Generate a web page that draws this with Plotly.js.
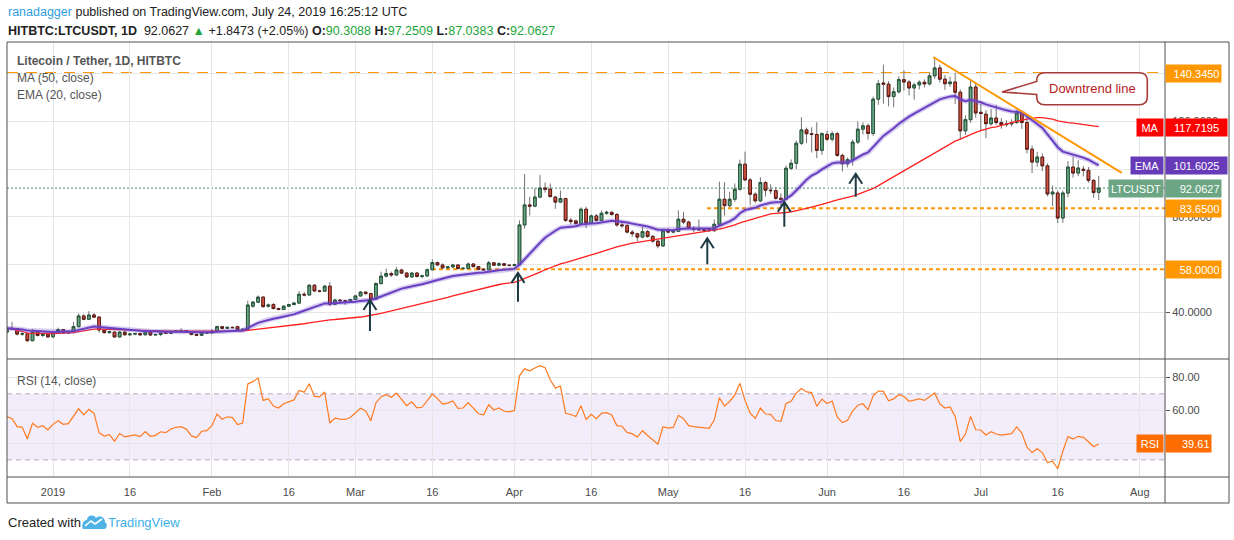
<!DOCTYPE html>
<html>
<head>
<meta charset="utf-8">
<script src="https://cdn.plot.ly/plotly-3.0.1.min.js"></script>
<style>
  html, body { margin: 0; padding: 0; background: #fff; }
  #chart { width: 1234px; height: 540px; }
</style>
</head>
<body>
<div id="chart"></div>
<script>
// LTC/USDT daily, HitBTC, 23 Dec 2018 - 24 Jul 2019

const open = [
  31.6, 33.2, 33.0, 30.8, 30.9, 28.0, 31.6, 30.2, 30.9,
  29.6, 31.4, 32.7, 31.3, 31.8, 33.9, 38.4, 37.0, 38.8, 37.9, 32.5, 31.4, 31.6, 29.6, 31.6, 30.5,
  30.8, 31.0, 30.5, 31.6, 30.4, 30.6, 31.3, 31.1, 31.8, 32.1, 32.2, 31.8, 30.6, 30.3, 31.2,
  31.3, 32.0, 33.9, 33.2, 33.6, 33.9, 32.6, 32.8, 42.5, 44.2, 46.3, 42.5, 43.2, 41.5, 41.1, 42.5,
  43.2, 43.8, 47.5, 47.2, 51.3, 48.9, 48.8, 50.9, 43.3, 45.1, 44.8, 44.7,
  45.3, 46.8, 48.4, 47.8, 45.5, 52.0, 55.1, 56.2, 55.6, 57.7, 56.4, 54.8, 56.4, 55.0, 55.2, 57.8,
  60.8, 59.8, 58.6, 59.0, 59.8, 58.3, 58.4, 60.2, 59.1, 58.0, 57.8, 60.7, 59.7, 60.3, 59.7,
  59.6, 59.9, 76.6, 85.0, 84.5, 88.3, 92.1, 91.6, 88.3, 86.2, 87.7, 78.6, 78.3, 77.3, 83.2,
  77.5, 80.4, 78.5, 81.5, 81.9, 81.0, 76.6, 76.3, 73.6, 72.9, 71.5, 73.8, 71.8, 69.8, 67.8,
  74.2, 73.6, 73.9, 79.0, 77.8, 75.2, 74.8, 74.6, 74.8, 74.2, 76.9, 87.4, 84.7, 87.4, 91.6, 102.1,
  95.5, 89.5, 86.7, 94.4, 91.2, 91.0, 87.8, 87.4, 100.4, 102.5, 110.9, 116.5, 114.9, 114.6, 107.9,
  114.6, 112.6, 114.9, 105.8, 102.3, 104.0, 111.4, 116.8, 118.2, 115.0, 129.4, 136.2, 135.7, 130.5, 132.5,
  137.6, 136.6, 134.1, 135.4, 136.5, 135.8, 139.2, 142.5, 137.8, 135.9, 136.6, 132.3, 116.1, 120.8, 134.5,
  123.9, 123.1, 119.1, 121.5, 119.6, 118.7, 119.0, 119.6, 123.6, 119.6, 108.4, 103.0, 105.1, 101.4, 89.6,
  90.0, 79.5, 90.0, 100.9, 98.4, 100.0, 99.5, 95.3, 90.3088
];
const high = [
  33.6, 35.9, 33.4, 31.6, 31.2, 32.9, 32.4, 31.1, 31.3,
  31.8, 33.5, 32.9, 32.2, 35.9, 39.5, 39.3, 40.4, 39.6, 38.3, 32.9, 32.2, 32.0, 32.1, 32.0, 31.2,
  31.3, 31.3, 32.0, 32.4, 30.9, 31.6, 31.5, 32.0, 32.4, 33.3, 32.4, 31.9, 30.9, 31.5, 31.6,
  32.9, 34.3, 34.1, 33.9, 33.9, 34.3, 33.1, 44.8, 44.6, 47.0, 46.6, 43.6, 43.8, 41.9, 42.8, 43.5,
  44.3, 48.9, 48.5, 51.6, 51.8, 49.4, 51.4, 52.7, 45.6, 45.4, 45.2, 45.7,
  47.3, 48.9, 48.7, 48.1, 52.5, 57.0, 58.3, 57.0, 59.0, 58.2, 56.8, 56.9, 56.8, 55.7, 58.3, 62.2,
  61.2, 60.5, 59.4, 60.3, 60.2, 58.9, 60.8, 60.6, 59.4, 58.4, 61.5, 61.0, 61.0, 60.7, 60.1,
  60.3, 78.5, 98.0, 88.5, 92.0, 97.6, 94.4, 94.0, 88.8, 91.0, 88.0, 79.6, 78.8, 84.0, 84.3,
  81.0, 81.2, 82.6, 82.5, 82.3, 81.6, 78.5, 76.9, 74.5, 73.3, 76.0, 74.5, 72.4, 70.4, 74.6,
  75.3, 74.6, 82.7, 82.1, 78.4, 76.0, 78.9, 75.3, 75.2, 78.9, 94.8, 94.5, 90.5, 94.0, 104.0, 107.4,
  96.3, 90.3, 96.6, 95.0, 93.7, 92.6, 89.9, 101.6, 104.1, 112.0, 121.8, 117.5, 117.6, 119.7, 115.5,
  116.2, 116.0, 115.6, 106.5, 104.9, 112.5, 120.0, 119.7, 119.2, 130.5, 137.5, 143.9, 137.0, 134.3, 139.0,
  141.6, 137.4, 136.4, 137.3, 137.7, 140.6, 146.7, 143.9, 139.5, 138.9, 140.5, 133.5, 122.6, 137.6, 136.3,
  127.4, 124.8, 125.3, 127.0, 121.4, 120.6, 121.0, 125.0, 124.5, 122.8, 110.0, 107.3, 106.6, 102.4, 93.2,
  91.1, 91.0, 103.4, 105.3, 103.8, 101.3, 100.9, 95.9, 97.2509
];
const low = [
  31.2, 32.6, 30.2, 30.1, 27.6, 27.8, 29.8, 29.6, 29.3,
  29.4, 31.1, 31.0, 30.9, 31.6, 33.6, 36.6, 36.7, 37.5, 31.4, 31.0, 31.0, 29.2, 29.4, 30.2, 30.1,
  30.3, 30.1, 30.3, 30.0, 30.1, 29.9, 30.8, 30.9, 31.5, 31.9, 31.5, 30.3, 29.9, 30.1, 30.9,
  31.1, 31.8, 32.9, 33.0, 33.2, 32.3, 32.3, 32.6, 41.8, 43.8, 42.0, 41.9, 41.2, 40.8, 40.9, 42.2,
  42.9, 43.5, 46.6, 46.9, 48.4, 48.3, 48.5, 42.5, 43.0, 44.2, 43.0, 44.3,
  45.0, 46.5, 47.3, 45.0, 45.2, 51.6, 54.6, 54.8, 55.2, 56.0, 54.3, 54.4, 54.6, 54.2, 54.9, 57.5,
  59.4, 58.2, 58.2, 58.6, 57.9, 57.9, 58.1, 58.8, 57.6, 57.4, 57.6, 59.4, 59.4, 59.3, 59.3,
  59.2, 59.7, 75.0, 80.6, 84.0, 87.8, 90.2, 88.2, 83.4, 85.8, 77.8, 76.9, 76.6, 76.9, 75.2,
  77.0, 78.0, 78.2, 80.8, 80.5, 75.8, 75.4, 73.0, 71.6, 69.8, 71.0, 71.2, 69.2, 66.8, 67.4,
  73.2, 73.0, 73.6, 76.9, 74.8, 73.6, 74.2, 73.5, 73.7, 73.6, 76.5, 80.5, 84.0, 86.3, 91.0, 95.0,
  84.9, 86.0, 86.2, 88.5, 89.6, 87.2, 84.4, 86.9, 99.6, 100.0, 110.2, 111.0, 107.0, 104.6, 106.0,
  111.8, 111.6, 105.2, 99.0, 100.8, 101.5, 110.5, 114.6, 112.4, 114.0, 127.0, 127.5, 126.4, 126.0, 131.8,
  133.0, 131.0, 129.2, 133.5, 134.3, 135.2, 137.9, 136.4, 133.3, 134.6, 127.4, 112.3, 114.4, 119.5, 121.6,
  116.4, 113.1, 118.2, 118.6, 117.0, 117.8, 117.9, 119.0, 116.9, 106.6, 98.4, 101.0, 99.2, 88.6, 84.5,
  77.4, 77.5, 88.2, 96.5, 97.1, 97.0, 94.3, 88.0, 87.0383
];
const close = [
  33.2, 33.0, 30.8, 30.9, 28.0, 31.6, 30.2, 30.8, 29.6,
  31.4, 32.7, 31.3, 31.8, 33.9, 38.4, 37.0, 38.8, 37.9, 32.5, 31.4, 31.8, 29.6, 31.6, 30.5, 30.8,
  31.0, 30.5, 31.6, 30.4, 30.6, 31.3, 31.1, 31.8, 32.1, 32.2, 31.8, 30.6, 30.3, 31.2, 31.3,
  32.0, 33.9, 33.2, 33.6, 33.5, 32.6, 32.8, 43.0, 44.2, 46.3, 42.3, 43.0, 41.5, 41.1, 42.5, 43.2,
  43.8, 47.5, 47.2, 51.3, 48.9, 48.8, 50.9, 43.3, 45.1, 44.8, 44.7, 45.3,
  46.8, 48.4, 47.8, 45.5, 52.0, 55.1, 56.2, 55.6, 57.7, 56.4, 54.8, 56.4, 55.0, 55.2, 57.8, 60.8,
  59.8, 58.6, 59.0, 59.8, 58.3, 58.4, 60.2, 59.1, 58.0, 57.8, 60.7, 59.7, 60.3, 59.7, 59.6,
  59.9, 76.6, 85.0, 84.5, 88.3, 92.1, 91.6, 88.5, 86.2, 87.7, 78.5, 78.0, 77.2, 83.2, 77.5,
  80.4, 78.5, 81.5, 81.9, 81.0, 76.6, 76.3, 73.6, 72.9, 71.5, 73.8, 71.8, 69.8, 67.8, 74.2,
  73.6, 73.9, 79.0, 77.8, 75.2, 74.8, 74.6, 74.4, 74.2, 76.9, 87.4, 84.7, 87.4, 91.6, 102.1, 95.5,
  89.5, 86.7, 94.4, 91.2, 91.0, 87.8, 87.4, 100.4, 102.5, 110.9, 116.5, 114.9, 114.6, 107.9, 114.9,
  112.6, 114.9, 105.8, 102.3, 104.0, 111.4, 116.8, 118.2, 115.0, 129.4, 135.9, 135.7, 130.5, 132.5, 137.6,
  136.6, 134.1, 135.4, 136.5, 135.8, 139.2, 142.5, 137.8, 135.9, 136.6, 132.3, 116.1, 120.8, 134.5, 123.6,
  123.4, 119.1, 121.5, 119.6, 118.7, 119.0, 119.6, 123.6, 119.6, 108.4, 103.0, 105.1, 101.4, 89.6, 90.4,
  79.5, 90.0, 100.9, 98.4, 100.5, 99.5, 95.3, 90.2, 92.0627
];

// RSI values for the first 14 sessions (before a full 14-day window exists)
const rsiWarmup = [56.1, 55.1, 50.1, 49.7, 42.6, 52.1, 49.7, 50.7, 48.1, 51.5, 53.7, 51.5, 51.9, 56.5];

const resistance = 140.345;
const support1 = 83.65;
const support2 = 58.0;
const maLast = 117.7195;
const emaLast = 101.6025;
const rsiLast = 39.61;

const timeTicks = ["2019-01-01", "2019-01-16", "2019-02-01", "2019-02-16", "2019-03-01", "2019-03-16",
  "2019-04-01", "2019-04-16", "2019-05-01", "2019-05-16", "2019-06-01", "2019-06-16",
  "2019-07-01", "2019-07-16", "2019-08-01"];
const timeLabels = ["2019", "16", "Feb", "16", "Mar", "16", "Apr", "16", "May", "16", "Jun", "16", "Jul", "16", "Aug"];
const priceTicks = [40, 60, 80, 100, 120, 140];
// labels the price tags leave visible
const priceTickLabels = ["40.0000", "", "80.0000", "", "120.0000", ""];
const rsiTicks = [40, 60, 80];
const rsiTickLabels = ["", "60.00", "80.00"];

// "higher low" arrows: tip (date, price) and length in px
const arrowDates = ["2019-03-03 20:00", "2019-04-01 17:00", "2019-05-08 15:20", "2019-05-23 16:00", "2019-06-06 14:20"];
const arrowPrices = [45.1, 56.5, 71.0, 86.3, 98.1];
const arrowLengths = [31, 29, 26, 25, 23];

// ---------------------------------------------------------------

const dates = close.map((_, i) => new Date(Date.UTC(2018, 11, 23 + i)).toISOString().slice(0, 10));

function sma(v, n) {
  const out = [];
  let sum = 0;
  for (let i = 0; i < v.length; i++) {
    sum += v[i];
    if (i >= n) sum -= v[i - n];
    out.push(sum / Math.min(i + 1, n));
  }
  return out;
}

function ema(v, n) {
  const k = 2 / (n + 1);
  const out = [v[0]];
  for (let i = 1; i < v.length; i++) out.push(v[i] * k + out[i - 1] * (1 - k));
  return out;
}

function rsi(v, n, warm) {
  const out = warm.slice(0, n);
  let g = 0, l = 0;
  for (let i = 1; i <= n; i++) {
    const ch = v[i] - v[i - 1];
    if (ch > 0) g += ch; else l -= ch;
  }
  g /= n; l /= n;
  out.push(100 - 100 / (1 + g / l));
  for (let i = n + 1; i < v.length; i++) {
    const ch = v[i] - v[i - 1];
    g = (g * (n - 1) + Math.max(ch, 0)) / n;
    l = (l * (n - 1) + Math.max(-ch, 0)) / n;
    out.push(l === 0 ? 100 : 100 - 100 / (1 + g / l));
  }
  return out;
}

const ma50 = sma(close, 50);
const ema20 = ema(close, 20);
const rsi14 = rsi(close, 14, rsiWarmup);
const bodyTop = open.map((o, i) => Math.max(o, close[i]));
const bodyBot = open.map((o, i) => Math.min(o, close[i]));

const F = '"Liberation Sans", Arial, sans-serif';
const C = {
  up: "#6ba583", upLine: "#225437",
  down: "#d75442", downLine: "#5b1a13",
  wick: "#737375",
  ma: "#ff1f1f", ema: "#6a3fc2",
  orange: "#ff9800", rsi: "#ff7a1f",
  grid: "#e6e6e6", frame: "#4f4f4f", text: "#4a4a4a"
};

// pixel -> paper helpers (plot area is x 7..1165, y 42..477)
const L = 7, R = 1165, T = 42, B = 477;
const px = x => (x - L) / (R - L);
const py = y => (B - y) / (B - T);
const xRange = ["2018-12-23 00:37", "2019-08-05 22:20"];

const traces = [
  {
    type: "candlestick", x: dates, open: open, high: high, low: low, close: close,
    xaxis: "x", yaxis: "y", whiskerwidth: 0, hoverinfo: "skip", showlegend: false,
    increasing: { line: { color: C.wick, width: 1 }, fillcolor: C.wick },
    decreasing: { line: { color: C.wick, width: 1 }, fillcolor: C.wick }
  },
  {
    type: "candlestick", x: dates, open: open, high: bodyTop, low: bodyBot, close: close,
    xaxis: "x", yaxis: "y", whiskerwidth: 0, hoverinfo: "skip", showlegend: false,
    increasing: { line: { color: C.upLine, width: 1 }, fillcolor: C.up },
    decreasing: { line: { color: C.downLine, width: 1 }, fillcolor: C.down }
  },
  {
    type: "scatter", mode: "lines", x: dates, y: ma50, xaxis: "x", yaxis: "y",
    line: { color: C.ma, width: 1.3 }, hoverinfo: "skip", showlegend: false
  },
  {
    type: "scatter", mode: "lines", x: dates, y: ema20, xaxis: "x", yaxis: "y",
    line: { color: "rgba(120,86,205,0.3)", width: 5 }, hoverinfo: "skip", showlegend: false
  },
  {
    type: "scatter", mode: "lines", x: dates, y: ema20, xaxis: "x", yaxis: "y",
    line: { color: C.ema, width: 2 }, hoverinfo: "skip", showlegend: false
  },
  {
    type: "scatter", mode: "lines", x: dates, y: rsi14, xaxis: "x2", yaxis: "y2",
    line: { color: C.rsi, width: 1.2 }, hoverinfo: "skip", showlegend: false
  }
];

const shapes = [
  // RSI band
  { type: "rect", xref: "paper", yref: "y2", x0: 0, x1: 1, y0: 30, y1: 70, layer: "below",
    fillcolor: "rgba(156, 99, 226, 0.12)", line: { width: 0 } },
  { type: "line", xref: "paper", yref: "y2", x0: 0, x1: 1, y0: 70, y1: 70, layer: "below",
    line: { color: "#b5a9bd", width: 1, dash: "5px,4px" } },
  { type: "line", xref: "paper", yref: "y2", x0: 0, x1: 1, y0: 30, y1: 30, layer: "below",
    line: { color: "#b5a9bd", width: 1, dash: "5px,4px" } },
  // levels
  { type: "line", xref: "paper", yref: "y", x0: 0, x1: 1, y0: resistance, y1: resistance, layer: "between",
    line: { color: C.orange, width: 2, dash: "11px,8px" } },
  { type: "line", xref: "x", yref: "y", x0: "2019-05-08 14:00", x1: xRange[1], y0: support1, y1: support1, layer: "between",
    line: { color: C.orange, width: 2, dash: "4px,3px" } },
  { type: "line", xref: "x", yref: "y", x0: "2019-03-15 22:30", x1: xRange[1], y0: support2, y1: support2, layer: "between",
    line: { color: C.orange, width: 2, dash: "4px,3px" } },
  { type: "line", xref: "paper", yref: "y", x0: 0, x1: 1, y0: close[close.length - 1], y1: close[close.length - 1], layer: "between",
    line: { color: "#3f8f63", width: 1, dash: "2px,2px" } },
  // downtrend line
  { type: "line", xref: "x", yref: "y", x0: "2019-06-21 17:00", y0: 147.1, x1: "2019-07-28 12:00", y1: 98.5,
    line: { color: C.orange, width: 2 } },
  // callout
  { type: "path", xref: "x", yref: "y", xsizemode: "pixel", ysizemode: "pixel",
    xanchor: "2019-07-05 03:10", yanchor: 132.4,
    path: "M0,0 L34.7,10.6 L34.7,11.3 Q34.7,19.3 42.7,19.3 L137.3,19.3 Q145.3,19.3 145.3,11.3 " +
          "L145.3,-4.7 Q145.3,-12.7 137.3,-12.7 L42.7,-12.7 Q34.7,-12.7 34.7,-4.7 L34.7,-2.4 Z",
    fillcolor: "#ffffff", line: { color: "#a83a3a", width: 1.6 } },
  // frame
  { type: "rect", xref: "paper", yref: "paper", x0: 0, x1: px(1229), y0: py(503), y1: 1,
    line: { color: C.frame, width: 1 } },
  { type: "line", xref: "paper", yref: "paper", x0: 1, x1: 1, y0: py(503), y1: 1, line: { color: C.frame, width: 1 } },
  { type: "line", xref: "paper", yref: "paper", x0: 0, x1: px(1229), y0: py(359), y1: py(359), line: { color: C.frame, width: 1 } },
  { type: "line", xref: "paper", yref: "paper", x0: 0, x1: px(1229), y0: 0, y1: 0, line: { color: C.frame, width: 1 } },
  // TradingView logo
  { type: "path", xref: "paper", yref: "paper", xsizemode: "pixel", ysizemode: "pixel",
    xanchor: px(82), yanchor: py(529),
    path: "M1,0 L22,0 C25,0 26,5 23,7 C23,12 17,14 14,11 C12,15 5,14 5,9 C1,9 -1,3 1,0 Z",
    fillcolor: "#4fb3e6", line: { width: 0 } },
  { type: "path", xref: "paper", yref: "paper", xsizemode: "pixel", ysizemode: "pixel",
    xanchor: px(82), yanchor: py(529),
    path: "M3,3 L9,8 L13,5 L20,10", line: { color: "#ffffff", width: 1.6 } }
];

arrowDates.forEach((d, i) => {
  const len = arrowLengths[i];
  shapes.push({
    type: "path", xref: "x", yref: "y", xsizemode: "pixel", ysizemode: "pixel",
    xanchor: d, yanchor: arrowPrices[i],
    path: "M0,0 L0," + (-len) + " M-6.5,-10 L0,0 L6.5,-10",
    line: { color: "#1e3a44", width: 2 }
  });
});

function note(text, x, y, o) {
  return Object.assign({
    text: text, x: x, y: y, xref: "paper", yref: "paper", xanchor: "left", yanchor: "middle",
    showarrow: false, font: { family: F, size: 12, color: "#222" }
  }, o || {});
}

function tag(y, yref, text, bg, w, side) {
  return {
    text: text, x: 1, y: y, xref: "paper", yref: yref,
    xanchor: side === "name" ? "right" : "left", xshift: side === "name" ? -1 : 0,
    showarrow: false, bgcolor: bg, borderpad: 1.5, width: w, height: 14,
    align: side === "name" ? "center" : (w > 55 ? "center" : "right"), valign: "middle",
    font: { family: F, size: 11, color: "#ffffff" }
  };
}

const green = "#22a53a";
const annotations = [
  note('<span style="color:#2f9fe0">ranadagger</span> published on TradingView.com, July 24, 2019 16:25:12 UTC',
    px(6), py(12), { font: { family: F, size: 12.5, color: "#222" } }),
  note('<b>HITBTC:LTCUSDT, 1D</b>  92.0627 <span style="color:' + green + '">▲</span> +1.8473 (+2.05%) ' +
    '<b>O:</b><span style="color:' + green + '">90.3088</span> <b>H:</b><span style="color:' + green + '">97.2509</span> ' +
    '<b>L:</b><span style="color:' + green + '">87.0383</span> <b>C:</b><span style="color:' + green + '">92.0627</span>',
    px(6), py(31), { font: { family: F, size: 12.5, color: "#222" } }),
  note("<b>Litecoin / Tether, 1D, HITBTC</b>", px(15), py(61), { font: { family: F, size: 12, color: "#555" } }),
  note("MA (50, close)", px(15), py(78), { font: { family: F, size: 12, color: "#555" } }),
  note("EMA (20, close)", px(15), py(95), { font: { family: F, size: 12, color: "#555" } }),
  note("RSI (14, close)", px(15), py(381), { font: { family: F, size: 12, color: "#555" } }),
  note("Created with", px(6), py(522), { font: { family: F, size: 13, color: "#222" } }),
  note("TradingView", px(106), py(522), { font: { family: F, size: 13, color: "#3cb0e8" } }),
  {
    text: "Downtrend line", x: "2019-07-22 17:00", y: 133.8, xref: "x", yref: "y",
    showarrow: false, font: { family: F, size: 13, color: "#b71c1c" }
  },
  tag(resistance, "y", resistance.toFixed(4), C.orange, 52),
  tag(maLast, "y", maLast.toFixed(4), "#ff0000", 58),
  tag(maLast, "y", "MA", "#ff0000", 23, "name"),
  tag(emaLast, "y", emaLast.toFixed(4), "#673ab7", 58),
  tag(emaLast, "y", "EMA", "#673ab7", 29, "name"),
  tag(close[close.length - 1], "y", close[close.length - 1].toFixed(4), C.up, 52),
  tag(close[close.length - 1], "y", "LTCUSDT", C.up, 51, "name"),
  tag(support1, "y", support1.toFixed(4), C.orange, 52),
  tag(support2, "y", support2.toFixed(4), C.orange, 52),
  tag(rsiLast, "y2", rsiLast.toFixed(2), "#ff6d00", 42),
  tag(rsiLast, "y2", "RSI", "#ff6d00", 23, "name")
];

const tickFont = { family: F, size: 11, color: C.text };

const layout = {
  width: 1234,
  height: 540,
  margin: { l: L, r: 1234 - R, t: T, b: 540 - B, pad: 0 },
  paper_bgcolor: "#ffffff",
  plot_bgcolor: "#ffffff",
  showlegend: false,
  hovermode: false,
  boxgap: 0.25,
  xaxis: {
    type: "date", range: xRange, domain: [0, 1], anchor: "y",
    rangeslider: { visible: false },
    tickmode: "array", tickvals: timeTicks, showticklabels: false, ticks: "",
    showgrid: true, gridcolor: C.grid, gridwidth: 1, zeroline: false, showline: false
  },
  yaxis: {
    domain: [py(359), 1], anchor: "x", side: "right", range: [20.33, 153.4],
    tickmode: "array", tickvals: priceTicks, ticktext: priceTickLabels,
    ticks: "outside", ticklen: 4, tickcolor: "#555", tickfont: tickFont,
    showgrid: true, gridcolor: C.grid, zeroline: false, showline: false
  },
  xaxis2: {
    type: "date", range: xRange, domain: [0, 1], anchor: "y2",
    tickmode: "array", tickvals: timeTicks, ticktext: timeLabels,
    ticks: "outside", ticklen: 5, tickcolor: "rgba(0,0,0,0)", tickfont: tickFont,
    showgrid: true, gridcolor: C.grid, zeroline: false, showline: false
  },
  yaxis2: {
    domain: [0, py(359)], anchor: "x2", side: "right", range: [19.6, 91.1],
    tickmode: "array", tickvals: rsiTicks, ticktext: rsiTickLabels,
    ticks: "outside", ticklen: 4, tickcolor: "#555", tickfont: tickFont,
    showgrid: true, gridcolor: C.grid, zeroline: false, showline: false
  },
  shapes: shapes,
  annotations: annotations
};

Plotly.newPlot("chart", traces, layout, { displayModeBar: false, staticPlot: true });
</script>
</body>
</html>
